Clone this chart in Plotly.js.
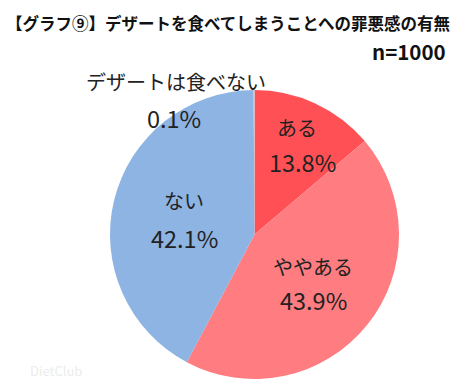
<!DOCTYPE html>
<html><head><meta charset="utf-8">
<script src="https://cdn.plot.ly/plotly-3.0.1.min.js"></script>
<style>html,body{margin:0;padding:0;background:#fff}</style>
</head><body>
<div id="chart" style="width:453px;height:384px"></div>
<script>
const categories = ["ある", "ややある", "ない", "デザートは食べない"];
const values = [13.8, 43.9, 42.1, 0.1];
const colors = ["#FF5155", "#FF7C80", "#8DB4E2", "#C9C9C9"];
const titleText = "【グラフ⑨】デザートを食べてしまうことへの罪悪感の有無";
const nText = "n=1000";

const W = 453, H = 384;
const font = "'Noto Sans CJK JP', 'Noto Sans', sans-serif";
// label pixel positions (centres of text lines)
const labelPos = [
  [297, 127, 302, 162],
  [313, 266, 313, 300],
  [184, 200, 184, 238],
  [176, 82, 174, 118]
];
const annotations = [];
categories.forEach((c, i) => {
  const p = labelPos[i];
  annotations.push({text: c, x: p[0]/W, y: 1 - p[1]/H, xref: "paper", yref: "paper",
    showarrow: false, xanchor: "center", yanchor: "middle",
    font: {family: font, size: 20, color: "#222"}});
  annotations.push({text: values[i].toFixed(1) + "%", x: p[2]/W, y: 1 - p[3]/H, xref: "paper", yref: "paper",
    showarrow: false, xanchor: "center", yanchor: "middle",
    font: {family: font, size: 23.5, color: "#222"}});
});
annotations.push({text: "<b>" + titleText + "</b>", x: 4/W, y: 1 - 23/H, xref: "paper", yref: "paper",
  showarrow: false, xanchor: "left", yanchor: "middle",
  font: {family: font, size: 16.5, color: "#111"}});
annotations.push({text: "<b>" + nText + "</b>", x: 448/W, y: 1 - 51/H, xref: "paper", yref: "paper",
  showarrow: false, xanchor: "right", yanchor: "middle",
  font: {family: font, size: 20.5, color: "#111"}});
annotations.push({text: "DietClub", x: 28/W, y: 1 - 370/H, xref: "paper", yref: "paper",
  showarrow: false, xanchor: "left", yanchor: "middle",
  font: {family: font, size: 13, color: "#ececec"}});

const trace = {
  type: "pie",
  labels: categories,
  values: values,
  sort: false,
  direction: "clockwise",
  rotation: 0,
  textinfo: "none",
  hoverinfo: "label+percent",
  marker: {colors: colors, line: {width: 0}},
  domain: {x: [110/W, 399/W], y: [(H-379)/H, (H-90)/H]},
  showlegend: false
};
Plotly.newPlot("chart", [trace], {
  width: W, height: H,
  margin: {l: 0, r: 0, t: 0, b: 0},
  paper_bgcolor: "#fff",
  showlegend: false,
  annotations: annotations
}, {displayModeBar: false, staticPlot: true});
</script>
</body></html>
